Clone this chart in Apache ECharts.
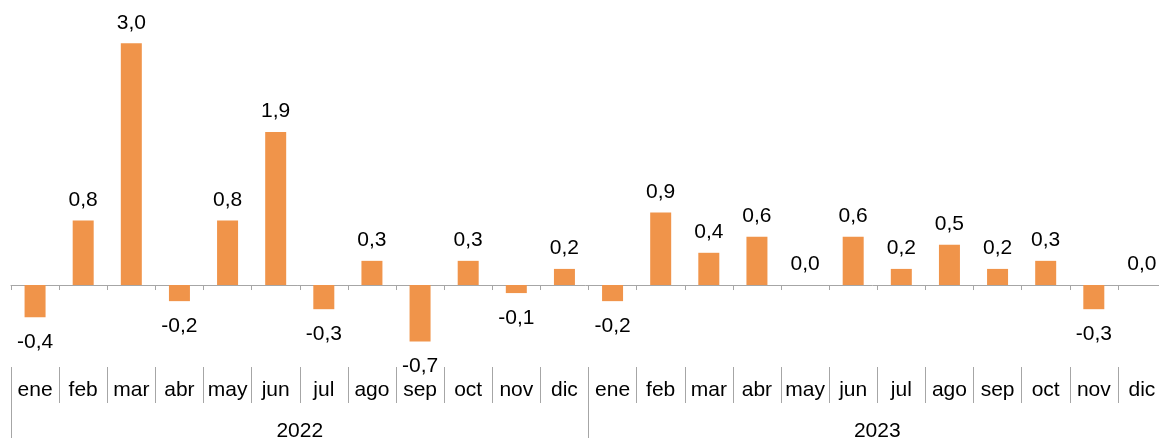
<!DOCTYPE html>
<html>
<head>
<meta charset="utf-8">
<script src="https://cdn.jsdelivr.net/npm/echarts@6/dist/echarts.min.js"></script>
<style>
  html, body { margin: 0; padding: 0; background: #fff; }
  #chart { width: 1159px; height: 438px; }
</style>
</head>
<body>
<div id="chart"></div>
<script>
var months = ['ene', 'feb', 'mar', 'abr', 'may', 'jun', 'jul', 'ago', 'sep', 'oct', 'nov', 'dic',
              'ene', 'feb', 'mar', 'abr', 'may', 'jun', 'jul', 'ago', 'sep', 'oct', 'nov', 'dic'];
var years = ['2022', '2023'];
var values = [-0.4, 0.8, 3.0, -0.2, 0.8, 1.9, -0.3, 0.3, -0.7, 0.3, -0.1, 0.2,
              -0.2, 0.9, 0.4, 0.6, 0.0, 0.6, 0.2, 0.5, 0.2, 0.3, -0.3, 0.0];

(function() {
  var barColor = '#F0944A';
  var axisGrey = '#A6A6A6';
  var font = '"Liberation Sans", Arial, sans-serif';

  var chart = echarts.init(document.getElementById('chart'), null, { renderer: 'canvas' });

  // negative values get their label under the bar
  var barData = values.map(function(v) {
    return {
      value: v,
      label: {
        position: v < 0 ? 'bottom' : 'top',
        distance: v < 0 ? 14.5 : 10
      }
    };
  });

  chart.setOption({
    animation: false,
    grid: { left: 11, right: -7, top: 3, bottom: 72.4, containLabel: false, outerBoundsMode: 'none' },
    xAxis: [{
      type: 'category',
      data: months,
      axisLine: { onZero: true, lineStyle: { color: axisGrey, width: 1 } },
      axisTick: { show: true, interval: 0, length: 5, lineStyle: { color: axisGrey } },
      axisLabel: { show: false }
    }, {
      // month boxes
      type: 'category',
      data: months,
      position: 'bottom',
      offset: 37.4,
      axisLine: { show: false, onZero: false },
      axisTick: { show: true, inside: true, interval: 0, length: 36, lineStyle: { color: axisGrey } },
      axisLabel: { inside: true, interval: 0, margin: 2, color: '#000', fontSize: 21, fontFamily: font }
    }, {
      // year groups
      type: 'category',
      data: years,
      position: 'bottom',
      offset: 94.4,
      axisLine: { show: false, onZero: false },
      axisTick: { show: true, inside: true, interval: 0, length: 93, lineStyle: { color: axisGrey } },
      axisLabel: { inside: true, interval: 0, margin: 18, color: '#000', fontSize: 21, fontFamily: font }
    }],
    yAxis: {
      type: 'value',
      min: -1,
      max: 3.5,
      show: false,
      splitLine: { show: false }
    },
    series: [{
      type: 'bar',
      xAxisIndex: 0,
      data: barData,
      barWidth: 21,
      itemStyle: { color: barColor },
      label: {
        show: true,
        color: '#000',
        fontSize: 21,
        fontFamily: font,
        formatter: function(p) { return p.value.toFixed(1).replace('.', ','); }
      }
    }]
  });
})();
</script>
</body>
</html>
